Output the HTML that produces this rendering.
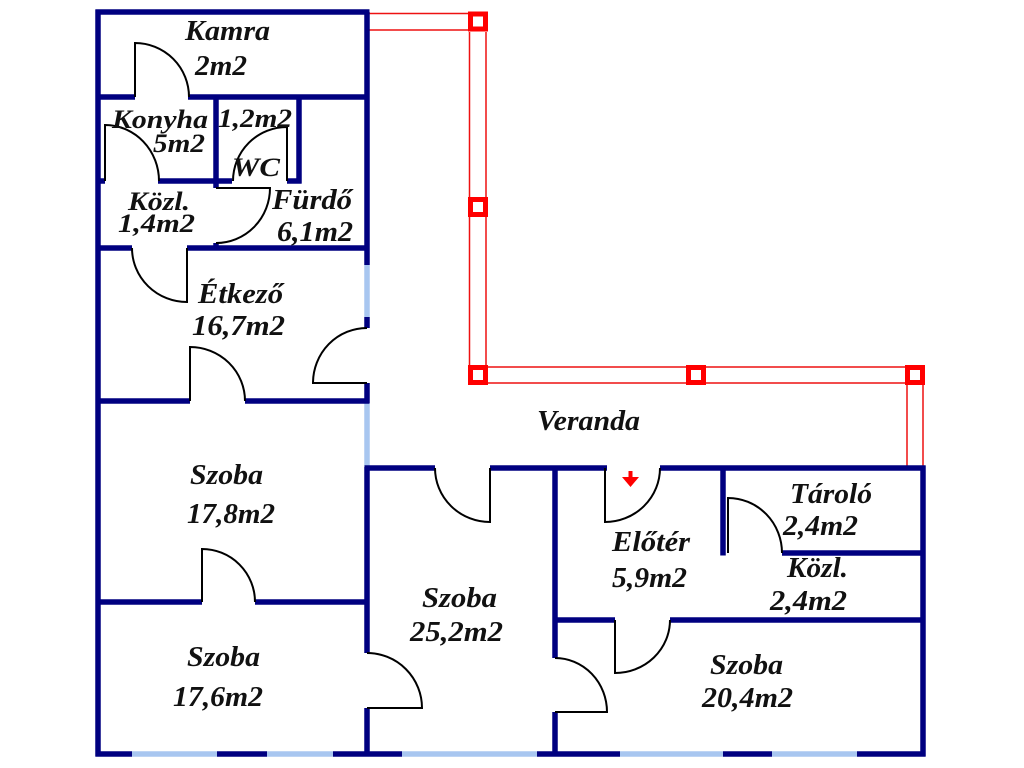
<!DOCTYPE html>
<html>
<head>
<meta charset="utf-8">
<style>
html,body{margin:0;padding:0;background:#fff;}
svg{display:block;}
text{font-family:"Liberation Serif","DejaVu Serif",serif;font-weight:bold;font-style:italic;font-size:28px;fill:#111;}
</style>
</head>
<body>
<svg width="1024" height="768" viewBox="0 0 1024 768" xmlns="http://www.w3.org/2000/svg">
<rect width="1024" height="768" fill="#fff"/>

<!-- Veranda red structure -->
<g stroke="#ee1111" stroke-width="1.5" fill="none">
  <path d="M367 13.5 H470 M367 30 H470"/>
  <path d="M469.5 32 V366 M486 32 V366"/>
  <path d="M486 367 H907 M486 383 H907"/>
  <path d="M907 385 V466 M923 385 V466"/>
</g>
<g stroke="#ff0000" stroke-width="5" fill="#fff">
  <rect x="470.5" y="14" width="15" height="15"/>
  <rect x="470.5" y="199.5" width="15" height="15"/>
  <rect x="470.5" y="367.5" width="15" height="15"/>
  <rect x="688.5" y="367.5" width="15" height="15"/>
  <rect x="907.5" y="367.5" width="15" height="15"/>
</g>

<!-- light blue windows -->
<g stroke="#a8c6f0" stroke-width="5.5" fill="none">
  <path d="M367 265 V317 M367 403 V467"/>
  <path d="M132 754 H217 M267 754 H333 M402 754 H537 M620 754 H723 M772 754 H857"/>
</g>

<!-- navy walls -->
<g stroke="#000080" stroke-width="5.5" fill="none">
  <path d="M95.5 12 H369.5"/>
  <path d="M98 9.5 V756.5"/>
  <path d="M367 12 V265 M367 317 V328 M367 383 V403 M367 467 V653 M367 708 V756.5"/>
  <path d="M98 97 H135 M188 97 H367"/>
  <path d="M98 181 H105 M158 181 H218.5"/>
  <path d="M216 94.5 V188 M299 94.5 V183.5 M216 181 H232 M287 181 H301.5"/>
  <path d="M216 243 V250"/>
  <path d="M98 248 H132 M187 248 H369.5"/>
  <path d="M98 401 H190 M245 401 H369.5"/>
  <path d="M98 602 H202 M255 602 H369.5"/>
  <path d="M95.5 754 H132 M217 754 H267 M333 754 H402 M537 754 H620 M723 754 H772 M857 754 H925.5"/>
  <path d="M364.5 468 H435 M490 468 H607 M660 468 H925.5"/>
  <path d="M555 468 V658 M555 712 V756.5"/>
  <path d="M555 620 H615 M670 620 H923"/>
  <path d="M723 468 V555.5"/>
  <path d="M782 553 H923"/>
  <path d="M923 465.5 V756.5"/>
</g>

<!-- doors -->
<g stroke="#000" stroke-width="2" fill="none">
  <path d="M135 97 V43 A54 54 0 0 1 189 97"/>
  <path d="M105 181 V125 A54 56 0 0 1 159 181"/>
  <path d="M287 181 V127 A54 54 0 0 0 233 181"/>
  <path d="M216 188 H270 A54 55 0 0 1 216 243"/>
  <path d="M187 248 V302 A55 54 0 0 1 132 248"/>
  <path d="M367 383 H313 A54 55 0 0 1 367 328"/>
  <path d="M190 401 V347 A55 54 0 0 1 245 401"/>
  <path d="M202 602 V549 A53 53 0 0 1 255 602"/>
  <path d="M490 468 V522 A55 54 0 0 1 435 468"/>
  <path d="M605 468 V522 A55 54 0 0 0 660 468"/>
  <path d="M555 712 H607 A52 54 0 0 0 555 658"/>
  <path d="M367 708 H422 A55 55 0 0 0 367 653"/>
  <path d="M615 620 V673 A55 53 0 0 0 670 620"/>
  <path d="M728 553 V498 A54 55 0 0 1 782 553"/>
</g>

<!-- entrance arrow -->
<rect x="628.5" y="471" width="4" height="7" fill="#ff0000"/>
<polygon points="622,477 639,477 630.5,487" fill="#ff0000"/>

<!-- labels -->
<text x="185" y="40" textLength="85" lengthAdjust="spacingAndGlyphs">Kamra</text>
<text x="195" y="75" textLength="52" lengthAdjust="spacingAndGlyphs">2m2</text>
<text x="112" y="128" textLength="96" lengthAdjust="spacingAndGlyphs" style="font-size:26px">Konyha</text>
<text x="218" y="127" textLength="74" lengthAdjust="spacingAndGlyphs" style="font-size:26px">1,2m2</text>
<text x="153" y="152" textLength="52" lengthAdjust="spacingAndGlyphs" style="font-size:26px">5m2</text>
<text x="232" y="176" textLength="48" lengthAdjust="spacingAndGlyphs" style="font-size:26px">WC</text>
<text x="128" y="210" textLength="62" lengthAdjust="spacingAndGlyphs" style="font-size:26px">Közl.</text>
<text x="118" y="232" textLength="77" lengthAdjust="spacingAndGlyphs" style="font-size:26px">1,4m2</text>
<text x="272" y="209" textLength="80" lengthAdjust="spacingAndGlyphs">Fürdő</text>
<text x="277" y="241" textLength="76" lengthAdjust="spacingAndGlyphs">6,1m2</text>
<text x="198" y="303" textLength="85" lengthAdjust="spacingAndGlyphs">Étkező</text>
<text x="192" y="335" textLength="93" lengthAdjust="spacingAndGlyphs">16,7m2</text>
<text x="537" y="430" textLength="103" lengthAdjust="spacingAndGlyphs">Veranda</text>
<text x="190" y="484" textLength="73" lengthAdjust="spacingAndGlyphs">Szoba</text>
<text x="187" y="523" textLength="88" lengthAdjust="spacingAndGlyphs">17,8m2</text>
<text x="187" y="666" textLength="73" lengthAdjust="spacingAndGlyphs">Szoba</text>
<text x="173" y="706" textLength="90" lengthAdjust="spacingAndGlyphs">17,6m2</text>
<text x="422" y="607" textLength="75" lengthAdjust="spacingAndGlyphs">Szoba</text>
<text x="410" y="641" textLength="93" lengthAdjust="spacingAndGlyphs">25,2m2</text>
<text x="612" y="551" textLength="78" lengthAdjust="spacingAndGlyphs">Előtér</text>
<text x="612" y="587" textLength="75" lengthAdjust="spacingAndGlyphs">5,9m2</text>
<text x="790" y="503" textLength="82" lengthAdjust="spacingAndGlyphs">Tároló</text>
<text x="783" y="535" textLength="75" lengthAdjust="spacingAndGlyphs">2,4m2</text>
<text x="787" y="577" textLength="61" lengthAdjust="spacingAndGlyphs">Közl.</text>
<text x="770" y="610" textLength="77" lengthAdjust="spacingAndGlyphs">2,4m2</text>
<text x="710" y="674" textLength="73" lengthAdjust="spacingAndGlyphs">Szoba</text>
<text x="702" y="707" textLength="91" lengthAdjust="spacingAndGlyphs">20,4m2</text>
</svg>
</body>
</html>
